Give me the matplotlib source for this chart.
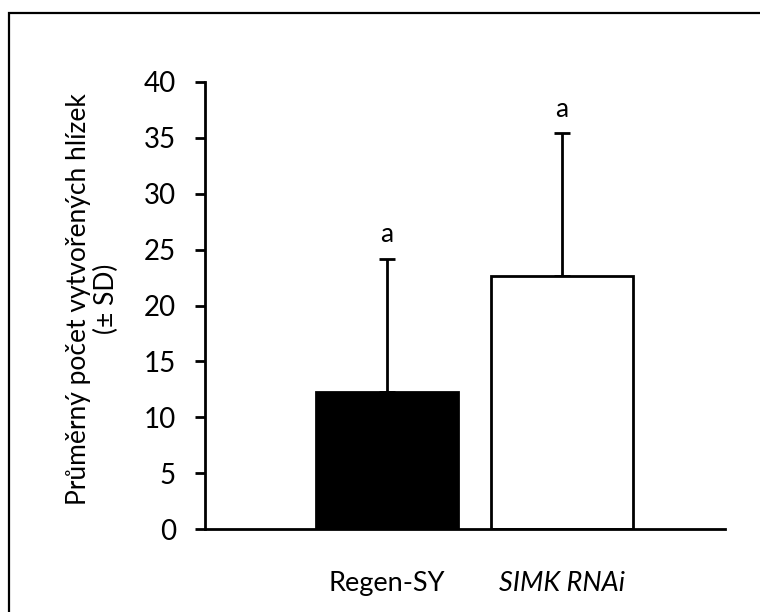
import matplotlib
matplotlib.use("Agg")
import matplotlib.pyplot as plt
from matplotlib.patches import Rectangle

categories = ["Regen-SY", "SIMK RNAi"]
means = [12.25, 22.6]
sds = [11.95, 12.8]
letters = ["a", "a"]
bar_colors = ["black", "white"]
yticks = [0, 5, 10, 15, 20, 25, 30, 35, 40]

plt.rcParams['font.family'] = ['Lato', 'DejaVu Sans']

fig = plt.figure(figsize=(7.6, 6.12), dpi=100)
ax = fig.add_axes([205/760, 1-529/612, (725-205)/760, (529-82)/612])

x = list(range(len(categories)))
ax.bar(x, means, width=0.81, color=bar_colors, edgecolor='black', linewidth=2, zorder=2)
ax.errorbar(x, means, yerr=[[0]*len(sds), sds], fmt='none', ecolor='black',
            elinewidth=2, capsize=6, capthick=2, zorder=1)
for xi, m, s, l in zip(x, means, sds, letters):
    ax.annotate(l, (xi, m + s), xytext=(0, 8), textcoords='offset points',
                ha='center', va='bottom', fontsize=19)

ax.set_xlim(-1.04, 1.93)
ax.set_ylim(0, 40)
ax.set_yticks(yticks)
ax.set_yticklabels([str(t) for t in yticks], fontsize=20)
ax.set_xticks(x)
ax.set_xticklabels(categories, fontsize=19.5)
ax.get_xticklabels()[1].set_style('italic')
ax.tick_params(axis='x', length=0, pad=30)
ax.tick_params(axis='y', length=7, width=2, pad=14)
for s in ['top', 'right']:
    ax.spines[s].set_visible(False)
for s in ['left', 'bottom']:
    ax.spines[s].set_linewidth(2)

ax.set_ylabel("Průměrný počet vytvořených hlízek\n(± SD)", fontsize=19, linespacing=1.15)
ax.yaxis.set_label_coords(-0.165, 0.515)

fig.patches.append(Rectangle((9/760, -0.2), 1.2, 1.2 - 13/612,
                             transform=fig.transFigure, fill=False,
                             edgecolor='black', linewidth=1.6))
fig.savefig("out.png", dpi=100)
